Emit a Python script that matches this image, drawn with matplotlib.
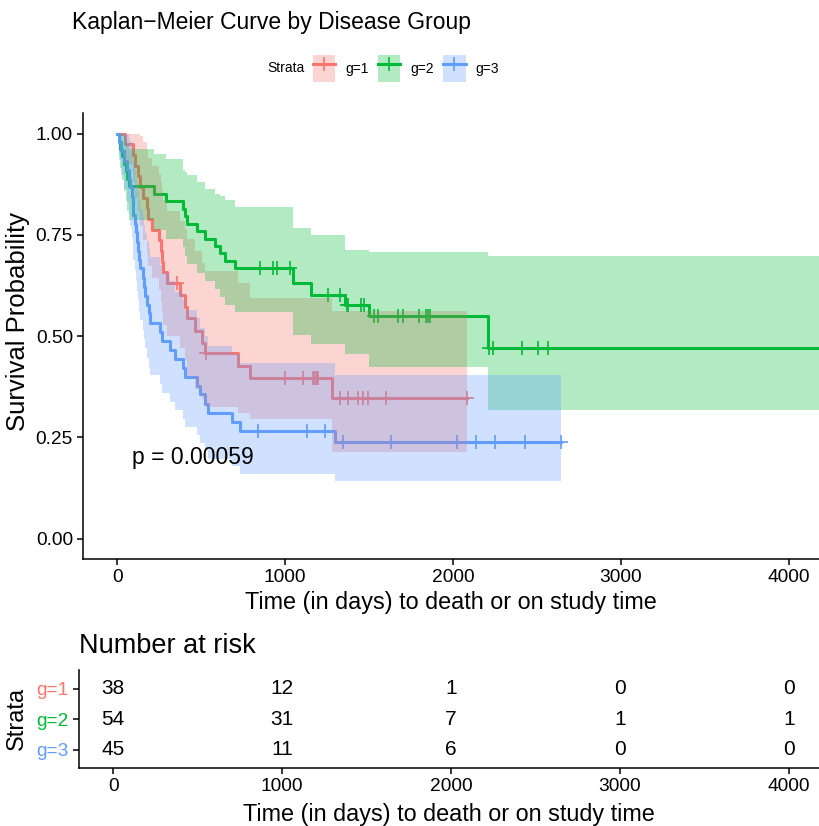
import numpy as np
import matplotlib
matplotlib.use("Agg")
import matplotlib.pyplot as plt
from matplotlib.patches import Patch
from matplotlib.lines import Line2D

plt.rcParams['font.family'] = ['Liberation Sans', 'DejaVu Sans']

# ---- data (time in days) ----
strata = ["g=1", "g=2", "g=3"]
colors = ["#F8766D", "#00BA38", "#619CFF"]

# g=1
t1 = [0, 46, 95, 105, 125, 135, 155, 175, 185, 205, 250, 258, 264, 274, 294,
      373, 403, 413, 463, 503, 522, 721, 790, 1277]
s1 = [1.0, .974, .947, .921, .895, .868, .842, .816, .789, .763, .737, .711, .684, .658, .632,
      .601, .573, .545, .512, .483, .459, .426, .396, .348]
up1 = [1.0, 1.0, 1.0, 1.0, 1.0, .995, .98, .96, .94, .92, .90, .88, .86, .835, .81,
       .785, .765, .74, .71, .68, .66, .63, .594, .561]
lo1 = [1.0, .924, .880, .842, .806, .771, .738, .705, .674, .643, .613, .584, .556, .528, .50,
       .47, .44, .40, .37, .345, .325, .31, .295, .215]
cens1 = [354, 530, 999, 1108, 1167, 1177, 1188, 1197, 1327, 1376, 1435, 1462, 1495, 1600, 2081]
end1 = 2081

# g=2
t2 = [0, 10, 16, 28, 42, 52, 61, 70, 220, 290, 390, 405, 415, 473, 522, 582, 612, 641, 701,
      1048, 1155, 1356, 1501, 2206]
s2 = [1.0, .981, .963, .944, .926, .907, .889, .870, .852, .833, .815, .796, .778, .759, .741,
      .722, .704, .685, .667, .631, .602, .577, .549, .471]
up2 = [1.0, 1.0, 1.0, 1.0, .995, .985, .975, .963, .950, .938, .909, .905, .897, .880, .864,
       .852, .845, .835, .819, .766, .749, .713, .708, .698]
lo2 = [1.0, .946, .914, .885, .858, .833, .810, .786, .763, .741, .719, .698, .677, .656, .636,
       .616, .597, .578, .559, .504, .481, .455, .424, .317]
cens2 = [850, 929, 949, 1029, 1257, 1326, 1366, 1374, 1451, 1469, 1529, 1551, 1674, 1703,
         1799, 1839, 1851, 1863, 2216, 2239, 2409, 2507, 2567]
end2 = 4250

# g=3
t3 = [0, 10, 22, 40, 58, 70, 76, 86, 91, 95, 104, 111, 120, 126, 131, 135, 155, 162, 168, 175,
      189, 195, 254, 266, 314, 344, 393, 403, 473, 493, 522, 542, 683, 731, 1295]
s3 = [1.0, .978, .956, .933, .911, .889, .867, .844, .822, .800, .778, .756, .733, .711, .689,
      .667, .644, .622, .600, .578, .556, .533, .511, .489, .467, .444, .422, .400, .378, .356,
      .333, .311, .289, .267, .239]
up3 = [1.0, 1.0, 1.0, 1.0, 1.0, .99, .98, .96, .945, .93, .91, .89, .875, .855, .835, .815,
       .795, .775, .755, .735, .715, .695, .675, .655, .635, .61, .59, .565, .545, .52, .50,
       .475, .455, .434, .405]
lo3 = [1.0, .935, .897, .862, .830, .800, .771, .743, .716, .689, .663, .637, .612, .588, .563,
       .540, .516, .493, .470, .447, .425, .403, .381, .359, .338, .317, .296, .276, .256, .236,
       .217, .198, .179, .160, .143]
cens3 = [840, 1133, 1237, 1342, 1628, 2021, 2135, 2250, 2428, 2641]
end3 = 2641

risk_times = [0, 1000, 2000, 3000, 4000]
risk_g1 = [38, 12, 1, 0, 0]
risk_g2 = [54, 31, 7, 1, 1]
risk_g3 = [45, 11, 6, 0, 0]
pval = "p = 0.00059"

groups = [
    (t1, s1, up1, lo1, cens1, end1),
    (t2, s2, up2, lo2, cens2, end2),
    (t3, s3, up3, lo3, cens3, end3),
]
risk = [risk_g1, risk_g2, risk_g3]

W, H = 819, 826
fig = plt.figure(figsize=(W / 100, H / 100), dpi=100)
xlim = (-202, 4179)

# ---- survival curves ----
ax = fig.add_axes([83.3 / W, 1 - 559 / H, (W - 83.3) / W, (559 - 113.3) / H])
for (t, s, up, lo, cens, end), col in zip(groups, colors):
    te = np.array(t + [end])
    se = np.array(s + [s[-1]])
    ax.step(te, se, where='post', color=col, lw=2.2, zorder=2)
    idx = np.searchsorted(t, cens, side='right') - 1
    ax.plot(cens, np.array(s)[idx], ls='none', marker='+', ms=10, mew=1.2, color=col, zorder=2)

# confidence bands go on top of the lines, as in the original
for (t, s, up, lo, cens, end), col in zip(groups, colors):
    te = np.array(t + [end])
    ax.fill_between(te, lo + [lo[-1]], up + [up[-1]], step='post', color=col, alpha=0.3,
                    lw=0, zorder=3)

ax.set_xlim(xlim)
ax.set_ylim(-0.05, 1.05)
ax.set_xticks(risk_times)
ax.set_yticks([0, 0.25, 0.5, 0.75, 1.0])
ax.set_yticklabels(["0.00", "0.25", "0.50", "0.75", "1.00"])
ax.spines['top'].set_visible(False)
ax.spines['right'].set_visible(False)
for sp in ['left', 'bottom']:
    ax.spines[sp].set_linewidth(1.1)
ax.tick_params(labelsize=13.8, length=4.5, width=1.1, pad=3, colors='black')
ax.set_xlabel("Time (in days) to death or on study time", fontsize=16.8)
ax.xaxis.set_label_coords(0.5, -0.071)
ax.set_ylabel("Survival Probability", fontsize=18.5)
ax.yaxis.set_label_coords(-0.073, 0.532)
ax.text(86, 0.20, pval, fontsize=16.5, ha='left', va='center')

fig.text(72 / W, 1 - 29 / H, "Kaplan\u2212Meier Curve by Disease Group", fontsize=16.5,
         va='baseline', ha='left')

# legend
handles = [(Patch(facecolor=c, alpha=0.3, lw=0),
            Line2D([], [], color=c, lw=2.2, marker='+', ms=10, mew=1.2)) for c in colors]
fig.legend(handles, strata, loc='center left', bbox_to_anchor=(313 / W, 1 - 68.5 / H),
           ncol=3, frameon=False, fontsize=10, handlelength=1.6, handleheight=2.7,
           handletextpad=0.7, columnspacing=0.7, borderpad=0, borderaxespad=0)
fig.text(267 / W, 1 - 68.5 / H, "Strata", fontsize=10, va='center', ha='left')

# ---- number at risk table ----
ax2 = fig.add_axes([79 / W, 1 - 767.6 / H, (W - 79) / W, (767.6 - 670) / H])
rows = [3, 2, 1]
for r, counts in zip(rows, risk):
    for tt, n in zip(risk_times, counts):
        ax2.text(tt, r, str(n), ha='center', va='center', fontsize=15)
ax2.set_xlim(xlim)
ax2.set_ylim(0.42, 3.62)
ax2.set_xticks(risk_times)
ax2.set_yticks(rows)
ax2.set_yticklabels(strata)
for lab, c in zip(ax2.get_yticklabels(), colors):
    lab.set_color(c)
ax2.spines['top'].set_visible(False)
ax2.spines['right'].set_visible(False)
for sp in ['left', 'bottom']:
    ax2.spines[sp].set_linewidth(1.1)
ax2.tick_params(labelsize=13.8, length=4.5, width=1.1, pad=3)
ax2.tick_params(axis='x', colors='black')
ax2.set_xlabel("Time (in days) to death or on study time", fontsize=16.8)
ax2.xaxis.set_label_coords(0.5, -0.36)
ax2.set_ylabel("Strata", fontsize=17)
ax2.yaxis.set_label_coords(-0.069, 0.5)
ax2.set_title("Number at risk", loc='left', fontsize=19.5, pad=12)

fig.savefig("out.png", dpi=100)
